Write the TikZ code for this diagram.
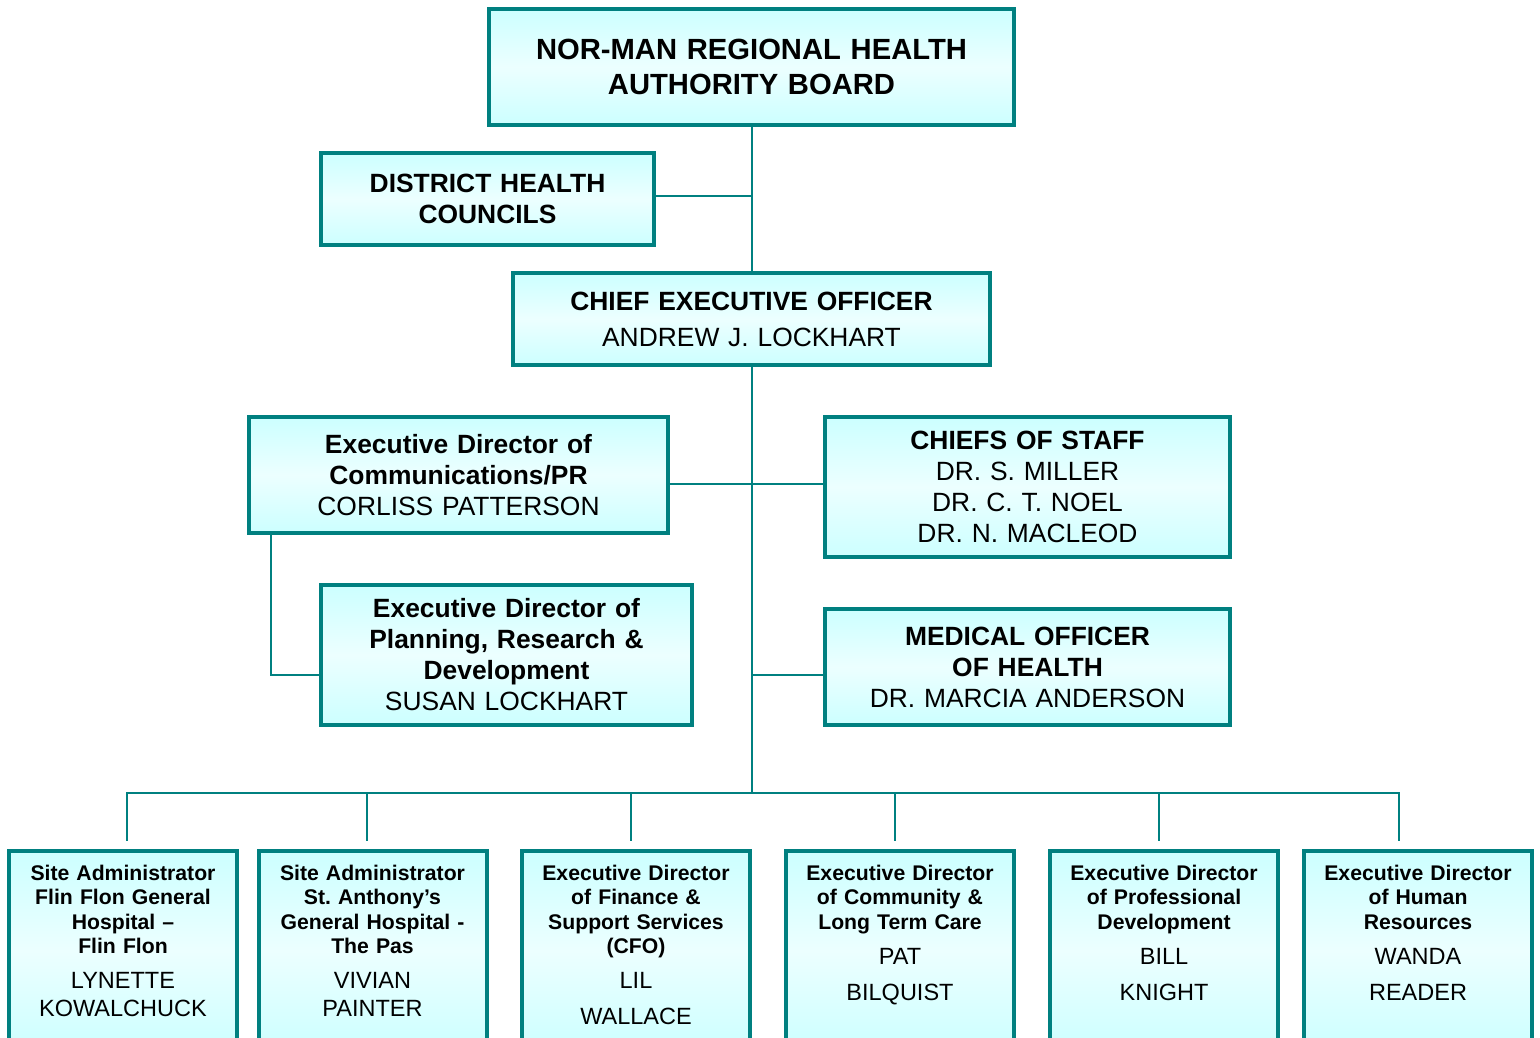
\documentclass[tikz,border=0pt]{standalone}
\usepackage{fontspec}
\setmainfont{Liberation Sans}
\usetikzlibrary{calc}
\definecolor{orgteal}{RGB}{0,128,128}
\definecolor{orgcyan}{RGB}{204,255,255}
\definecolor{orglight}{RGB}{236,255,255}
\newcommand\lowname{\fontsize{23.5}{24.5}\selectfont\mdseries}
\tikzset{
  orgbox/.style={draw=orgteal, line width=4pt, top color=orgcyan,
    bottom color=orgcyan, middle color=orglight, inner sep=0pt, align=center},
  topbox/.style={orgbox, font=\fontsize{29.2}{35}\selectfont\bfseries},
  midbox/.style={orgbox, font=\fontsize{26.4}{31}\selectfont},
  lowbox/.style={orgbox, minimum width=228pt, minimum height=200pt, anchor=north},
  lowtext/.style={anchor=north, inner sep=0pt, align=center, text width=220pt,
    font=\fontsize{21.2}{24.5}\selectfont\bfseries},
  link/.style={draw=orgteal, line width=2pt},
}
\begin{document}
\begin{tikzpicture}[x=1pt,y=-1pt]
  \useasboundingbox (0,0) rectangle (1540,1038);
  \clip (0,0) rectangle (1540,1038);
  % upper part
  \node[topbox, minimum width=525pt, minimum height=116pt, text width=500pt] (board) at (751.5,67)
    {NOR-MAN REGIONAL HEALTH\\AUTHORITY BOARD};
  \node[midbox, minimum width=333pt, minimum height=92pt, text width=320pt] (district) at (487.5,199)
    {\bfseries DISTRICT HEALTH\\COUNCILS};
  \node[midbox, minimum width=477pt, minimum height=92pt, text width=460pt] (ceo) at (751.5,319)
    {\bfseries CHIEF EXECUTIVE OFFICER\\[5pt]\mdseries ANDREW J. LOCKHART};
  \node[midbox, minimum width=419pt, minimum height=116pt, text width=400pt] (comm) at (458.5,475)
    {\bfseries Executive Director of\\Communications/PR\\\mdseries CORLISS PATTERSON};
  \node[midbox, minimum width=405pt, minimum height=140pt, text width=390pt] (chiefs) at (1027.5,487)
    {\bfseries CHIEFS OF STAFF\\\mdseries DR. S. MILLER\\DR. C. T. NOEL\\DR. N. MACLEOD};
  \node[midbox, minimum width=371pt, minimum height=140pt, text width=360pt] (plan) at (506.5,655)
    {\bfseries Executive Director of\\Planning, Research \&\\Development\\\mdseries SUSAN LOCKHART};
  \node[midbox, minimum width=405pt, minimum height=116pt, text width=390pt] (moh) at (1027.5,667)
    {\bfseries MEDICAL OFFICER\\OF HEALTH\\\mdseries DR. MARCIA ANDERSON};
  % lower row
  \node[lowbox] (site1) at (123,849) {};
  \node[lowbox] (site2) at (372.5,849) {};
  \node[lowbox] (fin) at (636,849) {};
  \node[lowbox] (comty) at (900,849) {};
  \node[lowbox] (prof) at (1164,849) {};
  \node[lowbox] (hr) at (1418,849) {};
  \node[lowtext] (site1txt) at ($(site1.north)+(0,15.5)$)
    {Site Administrator\\Flin Flon General\\Hospital –\\Flin Flon\\[10.5pt]\lowname LYNETTE\\[3.5pt]KOWALCHUCK};
  \node[lowtext] (site2txt) at ($(site2.north)+(0,15.5)$)
    {Site Administrator\\St.\ Anthony’s\\General Hospital -\\The Pas\\[10.5pt]\lowname VIVIAN\\[3.5pt]PAINTER};
  \node[lowtext] (fintxt) at ($(fin.north)+(0,15.5)$)
    {Executive Director\\of Finance \&\\Support Services\\(CFO)\\[10.5pt]\lowname LIL\\[11.5pt]WALLACE};
  \node[lowtext] (comtytxt) at ($(comty.north)+(0,15.5)$)
    {Executive Director\\of Community \&\\Long Term Care\\[10.5pt]\lowname PAT\\[11.5pt]BILQUIST};
  \node[lowtext] (proftxt) at ($(prof.north)+(0,15.5)$)
    {Executive Director\\of Professional\\Development\\[10.5pt]\lowname BILL\\[11.5pt]KNIGHT};
  \node[lowtext] (hrtxt) at ($(hr.north)+(0,15.5)$)
    {Executive Director\\of Human\\Resources\\[10.5pt]\lowname WANDA\\[11.5pt]READER};
  % lines
  \coordinate (bus) at (751.5,793);
  \draw[link] (board) -- (ceo);
  \draw[link] ([yshift=3pt]district.east) -- ([yshift=3pt]district.east -| board.south);
  \draw[link] (ceo) -- (bus);
  \draw[link] ([yshift=-9pt]comm.east) -- ([yshift=-9pt]comm.east -| chiefs.west);
  \draw[link] ([xshift=23.5pt]comm.south west) |- ([yshift=-20pt]plan.west);
  \draw[link] ([yshift=-8pt]moh.west) -- ([yshift=-8pt]moh.west -| bus);
  \foreach \site/\dx in {site1/4,site2/-5.5,fin/-5,comty/-5,prof/-5,hr/-19}
    \draw[link] (bus) -| ([xshift=\dx pt,yshift=8pt]\site.north);
\end{tikzpicture}
\end{document}
